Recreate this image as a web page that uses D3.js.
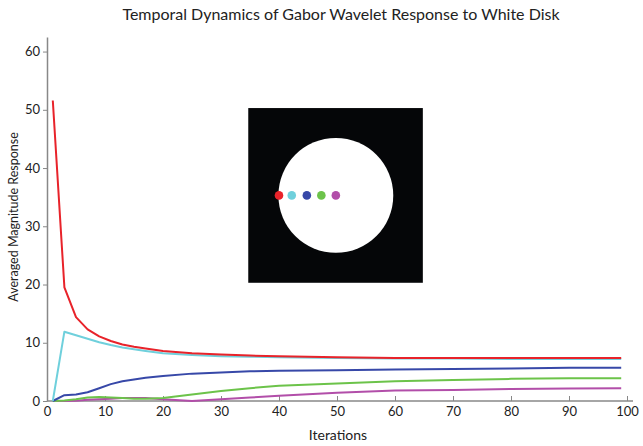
<!DOCTYPE html>
<html>
<head>
<meta charset="utf-8">
<script src="https://cdn.jsdelivr.net/npm/d3@7"></script>
<style>
  body { margin: 0; background: #fff; }
  svg text { font-family: Lato, "Open Sans", sans-serif; fill: #222; }
</style>
</head>
<body>
<div id="chart"></div>
<script>
// iterations sampled along the curves
const iterations = [1, 3, 5, 7, 9, 11, 13, 15, 17, 20, 25, 30, 35, 40, 50, 60, 70, 80, 90, 99];

const redValues     = [51.6, 19.5, 14.4, 12.3, 11.1, 10.3, 9.7, 9.3, 9.0, 8.6, 8.2, 8.0, 7.8, 7.7, 7.5, 7.4, 7.4, 7.4, 7.4, 7.4];
const cyanValues    = [0, 11.9, 11.3, 10.7, 10.1, 9.6, 9.2, 8.9, 8.6, 8.2, 7.9, 7.7, 7.6, 7.5, 7.4, 7.3, 7.3, 7.2, 7.2, 7.2];
const blueValues    = [0, 1.0, 1.1, 1.5, 2.2, 2.9, 3.4, 3.7, 4.0, 4.3, 4.7, 4.9, 5.1, 5.2, 5.3, 5.4, 5.5, 5.6, 5.7, 5.7];
const greenValues   = [0, 0.1, 0.3, 0.6, 0.7, 0.6, 0.5, 0.4, 0.4, 0.5, 1.1, 1.7, 2.2, 2.6, 3.0, 3.4, 3.6, 3.8, 3.9, 3.9];
const magentaValues = [0, 0, 0.05, 0.2, 0.3, 0.4, 0.5, 0.5, 0.5, 0.3, 0.0, 0.3, 0.6, 0.9, 1.4, 1.8, 1.9, 2.05, 2.15, 2.2];

const xTicks = [0, 10, 20, 30, 40, 50, 60, 70, 80, 90, 100];
const yTicks = [0, 10, 20, 30, 40, 50, 60];

const seriesNames  = ['red', 'cyan', 'blue', 'green', 'magenta'];
const seriesColors = ['#e8232a', '#6fd0dc', '#3748a8', '#6cc34a', '#b24ea9'];
// marker positions in the inset (data coords)
const markerX = [40, 42.2, 44.8, 47.3, 49.8];

const width = 643, height = 446;
const margin = { top: 37, right: 16, bottom: 45, left: 47 };

const svg = d3.select('#chart').append('svg')
    .attr('width', width)
    .attr('height', height);

const x = d3.scaleLinear().domain([0, 100]).range([margin.left, 627]);
const y = d3.scaleLinear().domain([0, 62.5]).range([height - margin.bottom, margin.top]);

// axes
const xAxis = svg.append('g')
    .attr('transform', `translate(0,${y(0)})`)
    .call(d3.axisBottom(x).tickValues(xTicks).tickSizeInner(-5).tickSizeOuter(0).tickPadding(4));
xAxis.select('.domain').attr('stroke', '#888').attr('stroke-width', 1.5)
    .attr('d', `M${x(0)},0H633`);
xAxis.selectAll('.tick line').attr('stroke', '#888');
xAxis.selectAll('.tick text').attr('font-size', 13).attr('fill', '#333').attr('dy', '0.85em');

const yAxis = svg.append('g')
    .attr('transform', `translate(${x(0)},0)`)
    .call(d3.axisLeft(y).tickValues(yTicks).tickSize(4).tickSizeOuter(0).tickPadding(3));
yAxis.select('.domain').attr('stroke', '#888').attr('stroke-width', 1.5);
yAxis.selectAll('.tick line').attr('stroke', '#888');
yAxis.selectAll('.tick text').attr('font-size', 13).attr('fill', '#333');

// lines
const allValues = [redValues, cyanValues, blueValues, greenValues, magentaValues];
const line = d3.line()
    .x((d, i) => x(iterations[i]))
    .y(d => y(d));

// draw bottom series first so red sits on top
for (let k = allValues.length - 1; k >= 0; k--) {
    svg.append('path')
        .datum(allValues[k])
        .attr('fill', 'none')
        .attr('stroke', seriesColors[k])
        .attr('stroke-width', 2)
        .attr('stroke-linejoin', 'round')
        .attr('d', line);
}

// inset: white disk on black
const inset = svg.append('g');
inset.append('rect')
    .attr('x', x(34.7)).attr('y', y(50.3))
    .attr('width', x(64.8) - x(34.7)).attr('height', y(20.3) - y(50.3))
    .attr('fill', '#050608');
inset.append('circle')
    .attr('cx', x(49.8)).attr('cy', y(35.3))
    .attr('r', x(59.7) - x(49.8))
    .attr('fill', '#fff');
inset.selectAll('.marker')
    .data(markerX)
    .enter().append('circle')
    .attr('class', 'marker')
    .attr('cx', d => x(d))
    .attr('cy', y(35.3))
    .attr('r', 4.3)
    .attr('fill', (d, i) => seriesColors[i]);

// labels
svg.append('text')
    .attr('x', 341).attr('y', 20)
    .attr('text-anchor', 'middle')
    .attr('font-size', 16)
    .text('Temporal Dynamics of Gabor Wavelet Response to White Disk');

svg.append('text')
    .attr('x', 338).attr('y', 440)
    .attr('text-anchor', 'middle')
    .attr('font-size', 14)
    .text('Iterations');

svg.append('text')
    .attr('transform', `translate(18,${217}) rotate(-90)`)
    .attr('text-anchor', 'middle')
    .attr('font-size', 12.5)
    .text('Averaged Magnitude Response');
</script>
</body>
</html>
